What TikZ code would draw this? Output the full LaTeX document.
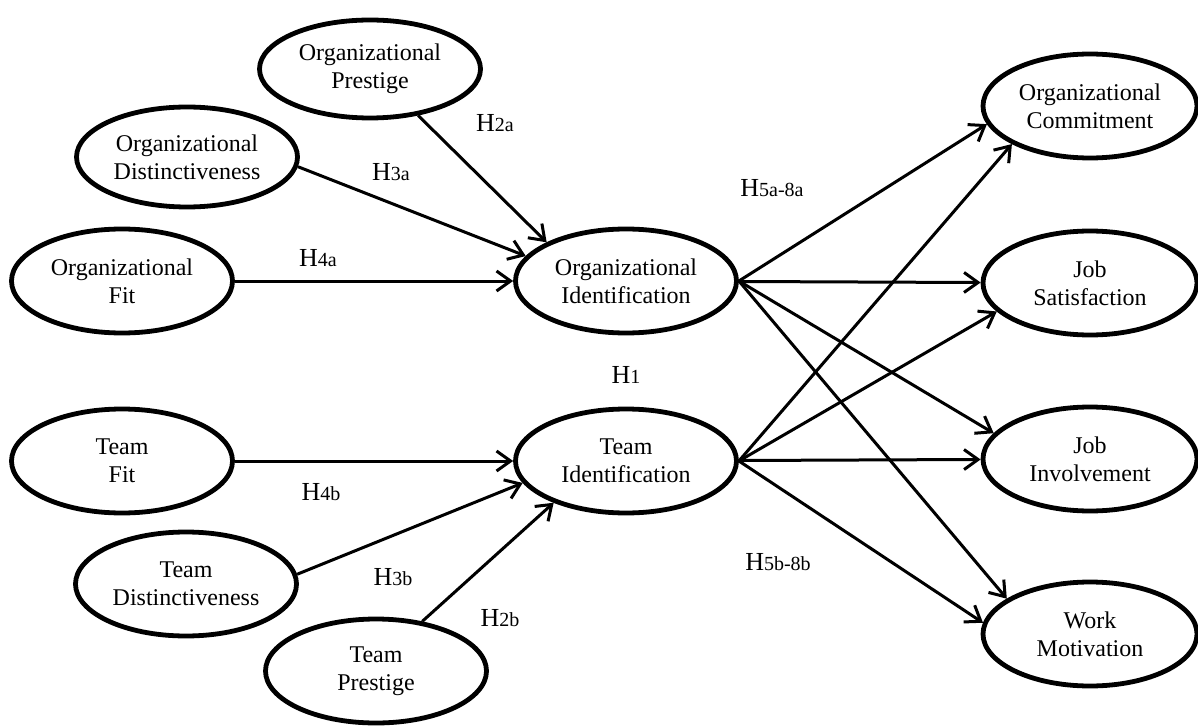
\documentclass[tikz,border=0pt]{standalone}
\usepackage{fontspec}
\setmainfont{Liberation Serif}
\usetikzlibrary{shapes.geometric,arrows.meta}

\newcommand{\hyp}[1]{{\fontsize{13}{15}\selectfont H}{\fontsize{10}{12}\selectfont #1}}

\begin{document}
\begin{tikzpicture}[x=0.5pt,y=-0.5pt,
    latent/.style={ellipse,draw,line width=2.4pt,minimum width=110.5pt,minimum height=52pt,
      inner sep=1pt,align=center,font=\fontsize{12}{14}\selectfont},
    outcome/.style={latent,minimum width=107pt},
    >={Straight Barb[length=7pt,width=10pt]}]
    \useasboundingbox (0,0) rectangle (1198,727);
                \node[latent,minimum height=49pt] (org_pres) at (370,69) {Organizational\\Prestige};
                \node[latent,minimum height=50pt] (org_dist) at (187,157) {Organizational\\Distinctiveness};
                \node[latent] (org_fit) at (122,281) {Organizational\\Fit};
                \node[latent] (org_iden) at (626,281) {Organizational\\Identification};
                \node[latent] (tm_fit) at (122,461) {Team\\Fit};
                \node[latent] (tm_dist) at (186,584) {Team\\Distinctiveness};
                \node[latent] (tm_pres) at (376,671) {Team\\Prestige};
                \node[latent] (tm_iden) at (626,461) {Team\\Identification};
                \node[outcome] (org_comm) at (1090,106) {Organizational\\Commitment};
                \node[outcome] (job_sat) at (1090,283) {Job\\Satisfaction};
                \node[outcome] (job_inv) at (1090,459) {Job\\Involvement};
                \node[outcome] (work_mot) at (1090,634) {Work\\Motivation};
                % hypothesis labels
                \node (h_2a) at (495,123) {\hyp{2a}};
                \node (h_3a) at (391,172) {\hyp{3a}};
                \node (h_4a) at (318,258) {\hyp{4a}};
                \node (h_58a) at (772,188) {\hyp{5a-8a}};
                \node (h_1) at (626,375) {\hyp{1}};
                \node (h_4b) at (321,492) {\hyp{4b}};
                \node (h_3b) at (393,577) {\hyp{3b}};
                \node (h_2b) at (500,618) {\hyp{2b}};
                \node (h_58b) at (778,562) {\hyp{5b-8b}};
                \path[->,line width=1.5pt]
                (org_pres.-44) edge (org_iden.154)
                (org_dist.-5) edge (org_iden.166)
                (org_fit) edge (org_iden)
                (org_iden.east) edge (org_comm.190)
                (org_iden) edge (job_sat)
                (org_iden.east) edge (job_inv.165)
                (org_iden.east) edge (work_mot.157)
                (tm_fit) edge (tm_iden)
                (tm_dist.5) edge (tm_iden.192)
                (tm_pres.47) edge (tm_iden.210)
                (tm_iden.east) edge (org_comm.206)
                (tm_iden.east) edge (job_sat.197)
                (tm_iden) edge (job_inv)
                (tm_iden.east) edge (work_mot.174);
            \end{tikzpicture}
\end{document}
